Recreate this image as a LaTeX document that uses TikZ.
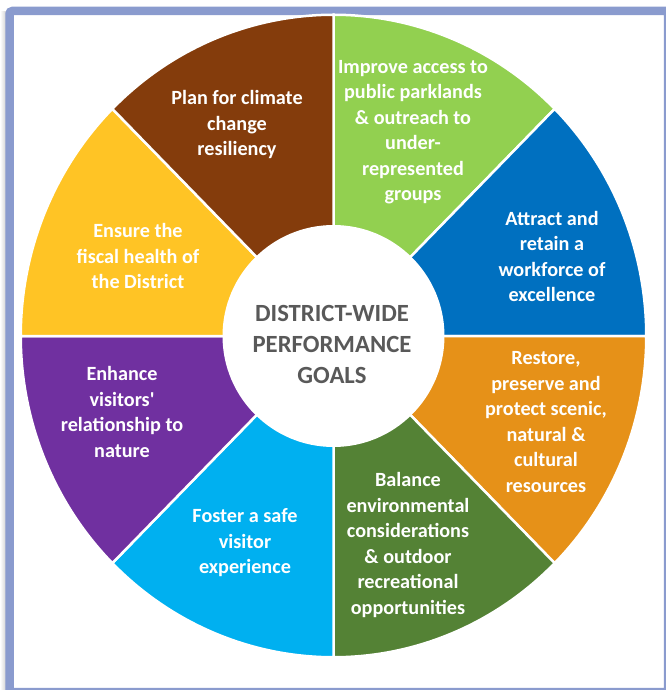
\documentclass[tikz,border=0pt]{standalone}
\usepackage{fontspec}
\setmainfont{Carlito}
\definecolor{framegrey}{HTML}{8A9BCE}
\definecolor{hubgrey}{HTML}{595959}
\definecolor{goalbrown}{HTML}{843C0C}
\definecolor{goalgreen}{HTML}{92D050}
\definecolor{goalblue}{HTML}{0070C0}
\definecolor{goalorange}{HTML}{E69118}
\definecolor{goaldkgreen}{HTML}{548235}
\definecolor{goalcyan}{HTML}{00B0F0}
\definecolor{goalpurple}{HTML}{7030A0}
\definecolor{goalyellow}{HTML}{FFC425}
\begin{document}
\begin{tikzpicture}[x=1pt, y=-1pt,
        wedge/.style={draw=white, line width=2.5pt},
        goal text/.style={text=white, font=\bfseries\fontsize{20.2}{25.5}\selectfont, align=center, inner sep=0pt},
        hub/.style={circle, fill=white, minimum size=222pt, inner sep=0pt},
        hub text/.style={text=hubgrey, font=\bfseries\fontsize{24.7}{31}\selectfont, align=center, inner sep=0pt},
        frame/.style={draw=framegrey, line width=8.5pt, rounded corners=3pt}
    ]
	\useasboundingbox (0,0) rectangle (665,690);
	\shade[left color=white, right color=gray!35] (0,12) rectangle (6,690);
	\draw[frame] (9.5,11) rectangle (668,692);

	\coordinate (c) at (333.5,336);
	\filldraw[wedge, fill=goalgreen] (c) -- ++(-90:312.75 and 321.25) arc[start angle=-90, end angle=-45, x radius=312.75, y radius=321.25] -- cycle;
	\filldraw[wedge, fill=goalblue] (c) -- ++(-45:312.75 and 321.25) arc[start angle=-45, end angle=0, x radius=312.75, y radius=321.25] -- cycle;
	\filldraw[wedge, fill=goalorange] (c) -- ++(0:312.75 and 321.25) arc[start angle=0, end angle=45, x radius=312.75, y radius=321.25] -- cycle;
	\filldraw[wedge, fill=goaldkgreen] (c) -- ++(45:312.75 and 321.25) arc[start angle=45, end angle=90, x radius=312.75, y radius=321.25] -- cycle;
	\filldraw[wedge, fill=goalcyan] (c) -- ++(90:312.75 and 321.25) arc[start angle=90, end angle=135, x radius=312.75, y radius=321.25] -- cycle;
	\filldraw[wedge, fill=goalpurple] (c) -- ++(135:312.75 and 321.25) arc[start angle=135, end angle=180, x radius=312.75, y radius=321.25] -- cycle;
	\filldraw[wedge, fill=goalyellow] (c) -- ++(180:312.75 and 321.25) arc[start angle=180, end angle=225, x radius=312.75, y radius=321.25] -- cycle;
	\filldraw[wedge, fill=goalbrown] (c) -- ++(225:312.75 and 321.25) arc[start angle=225, end angle=270, x radius=312.75, y radius=321.25] -- cycle;

	\node[hub] (hub) at (c) {};
	\node[hub text] (hub_label) at (332,344) {DISTRICT-WIDE\\PERFORMANCE\\GOALS};

	\node[goal text] (g_1) at (237,125) {Plan for climate\\change\\resiliency};
	\node[goal text] (g_2) at (413,132) {Improve access to\\public parklands\\\& outreach to\\under-\\represented\\groups};
	\node[goal text] (g_3) at (552,256.5) {Attract and\\retain a\\workforce of\\excellence};
	\node[goal text] (g_4) at (546,422) {Restore,\\preserve and\\protect scenic,\\natural \&\\cultural\\resources};
	\node[goal text] (g_5) at (408,545) {Balance\\environmental\\considerations\\\& outdoor\\recreational\\opportunities};
	\node[goal text] (g_6) at (245,543) {Foster a safe\\visitor\\experience};
	\node[goal text] (g_7) at (122,412) {Enhance\\visitors\textquotesingle\\relationship to\\nature};
	\node[goal text] (g_8) at (138,256) {Ensure the\\fiscal health of\\the District};
\end{tikzpicture}
\end{document}
